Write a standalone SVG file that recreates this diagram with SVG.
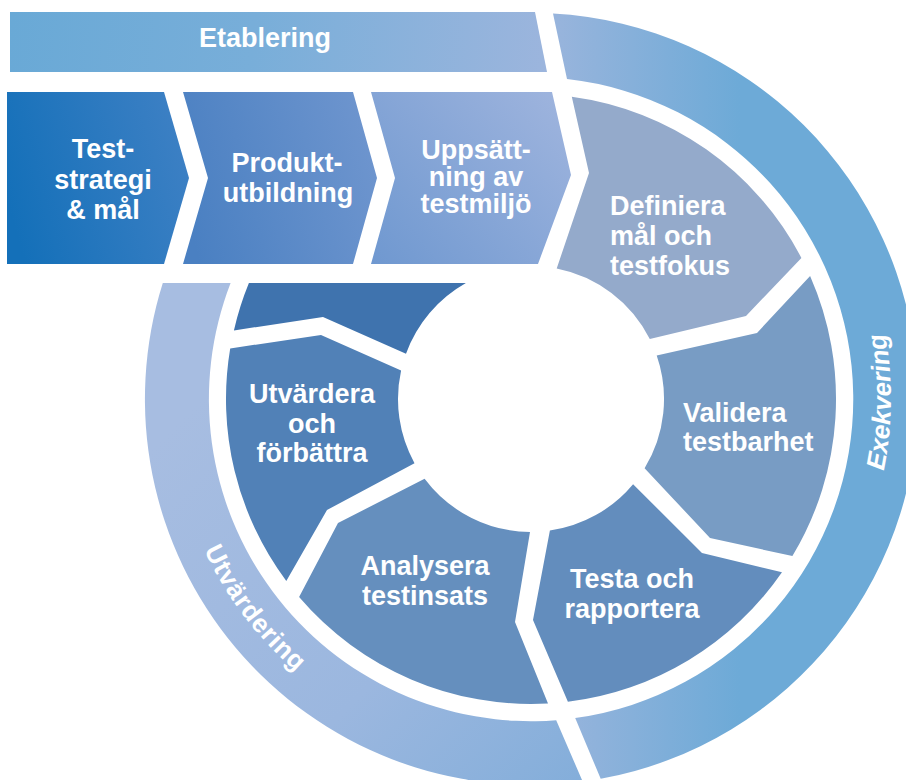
<svg xmlns="http://www.w3.org/2000/svg" width="906" height="780" viewBox="0 0 906 780">
<style>
.lbl{font-family:"Liberation Sans",Arial,sans-serif;font-weight:bold;font-size:27px;fill:#ffffff;}
.mid{text-anchor:middle;}
.ring{font-family:"Liberation Sans",Arial,sans-serif;font-weight:bold;font-size:26px;fill:#ffffff;}
</style>
<defs>
<linearGradient id="gBanner" gradientUnits="userSpaceOnUse" x1="10" y1="20" x2="547" y2="72">
<stop offset="0" stop-color="#69A9D6"/><stop offset="0.45" stop-color="#78AED9"/><stop offset="1" stop-color="#9CB5DD"/>
</linearGradient>
<linearGradient id="gC1" gradientUnits="userSpaceOnUse" x1="7" y1="200" x2="189" y2="150">
<stop offset="0" stop-color="#1470B9"/><stop offset="1" stop-color="#3D80C4"/>
</linearGradient>
<linearGradient id="gC2" gradientUnits="userSpaceOnUse" x1="183" y1="200" x2="377" y2="150">
<stop offset="0" stop-color="#4A80C2"/><stop offset="1" stop-color="#6E95CE"/>
</linearGradient>
<linearGradient id="gC3" gradientUnits="userSpaceOnUse" x1="371" y1="264" x2="571" y2="92">
<stop offset="0" stop-color="#6F98D0"/><stop offset="1" stop-color="#A0B5DE"/>
</linearGradient>
<linearGradient id="gExe" gradientUnits="userSpaceOnUse" x1="560" y1="400" x2="740" y2="400">
<stop offset="0" stop-color="#97B4DC"/><stop offset="1" stop-color="#6DAAD7"/>
</linearGradient>
<linearGradient id="gUtv" gradientUnits="userSpaceOnUse" x1="200" y1="400" x2="580" y2="780">
<stop offset="0" stop-color="#A7BDE1"/><stop offset="0.6" stop-color="#9BB7DF"/><stop offset="1" stop-color="#84AEDA"/>
</linearGradient>
<path id="pExe" d="M 841.2 581.7 A 360 360 0 0 0 844.3 221.7"/>
<path id="pUtv" d="M 173.8 443.5 A 360 360 0 0 0 390.9 730.6"/>
</defs>

<g id="etablering">
<path d="M 10 12 L 535 12 L 547 72 L 10 72 Z" fill="url(#gBanner)"/>
<text class="lbl mid" x="265" y="47">Etablering</text>
</g>

<g id="exekvering">
<path d="M 553 13.6 A 386 386 0 0 1 600.7 778.8 L 575.2 718 A 322 322 0 0 0 567 79 Z" fill="url(#gExe)"/>
<text class="ring" font-style="italic"><textPath href="#pExe" startOffset="50%" text-anchor="middle">Exekvering</textPath></text>
</g>

<g id="utvardering">
<path d="M 162.8 283 L 230.6 283 A 322 322 0 0 0 556.2 720.2 L 582.7 781.6 A 386 386 0 0 1 162.8 283 Z" fill="url(#gUtv)"/>
<text class="ring" letter-spacing="0.8"><textPath href="#pUtv" startOffset="50%" text-anchor="middle">Utvärdering</textPath></text>
</g>

<g id="teststrategi">
<path d="M 7 92 L 164 92 L 189 178 L 164 264 L 7 264 Z" fill="url(#gC1)"/>
<text class="lbl mid" x="103" y="158">Test-</text>
<text class="lbl mid" x="103" y="189">strategi</text>
<text class="lbl mid" x="103" y="219">&amp; mål</text>
</g>

<g id="produktutbildning">
<path d="M 183 92 L 353 92 L 377 178 L 353 264 L 183 264 L 208 178 Z" fill="url(#gC2)"/>
<text class="lbl mid" x="287" y="172">Produkt-</text>
<text class="lbl mid" x="288" y="202">utbildning</text>
</g>

<g id="uppsattning">
<path d="M 371 92 L 552 92 L 571 175 L 538 264 L 371 264 L 395 178 Z" fill="url(#gC3)"/>
<text class="lbl mid" x="476" y="159">Uppsätt-</text>
<text class="lbl mid" x="476" y="186">ning av</text>
<text class="lbl mid" x="476" y="213">testmiljö</text>
</g>

<g id="definiera">
<path d="M 571.8 96.7 A 305 305 0 0 1 801.4 257.9 L 746 316 L 649.8 339.1 A 133 133 0 0 0 556.7 268.5 L 589 173 Z" fill="#94AACB"/>
<text class="lbl" x="610" y="215">Definiera</text>
<text class="lbl" x="610" y="245">mål och</text>
<text class="lbl" x="610" y="275">testfokus</text>
</g>

<g id="validera">
<path d="M 810.1 275.9 A 305 305 0 0 1 792.4 556.1 L 710 538 L 644.6 468.2 A 133 133 0 0 0 656.7 355.5 L 757 333 Z" fill="#789CC4"/>
<text class="lbl" x="683" y="422">Validera</text>
<text class="lbl" x="683" y="451">testbarhet</text>
</g>

<g id="testa">
<path d="M 782 572.3 A 305 305 0 0 1 567.9 701.8 L 533 620 L 549.9 530.6 A 133 133 0 0 0 633.1 484.2 L 702 553 Z" fill="#638DBD"/>
<text class="lbl mid" x="632" y="588">Testa och</text>
<text class="lbl mid" x="632" y="618">rapportera</text>
</g>

<g id="analysera">
<path d="M 548 703.5 A 305 305 0 0 1 299.1 597.1 L 338 523 L 424.6 478.8 A 133 133 0 0 0 530 532 L 515 622 Z" fill="#658FBE"/>
<text class="lbl mid" x="425" y="575">Analysera</text>
<text class="lbl mid" x="425" y="605">testinsats</text>
</g>

<g id="utvardera">
<path d="M 286.3 581 A 305 305 0 0 1 230.2 348.4 L 321 335 L 401.1 370.5 A 133 133 0 0 0 414.5 463.2 L 327 510 Z" fill="#5181B7"/>
<text class="lbl mid" x="312" y="403">Utvärdera</text>
<text class="lbl mid" x="312" y="433">och</text>
<text class="lbl mid" x="312" y="462">förbättra</text>
</g>

<g id="cykelstart">
<path d="M 248.9 283 L 465.9 283 A 133 133 0 0 0 406 353.7 L 323 317 L 233.9 330.4 A 305 305 0 0 1 248.9 283 Z" fill="#3F73AE"/>
</g>

<g id="connectors"/>
</svg>
